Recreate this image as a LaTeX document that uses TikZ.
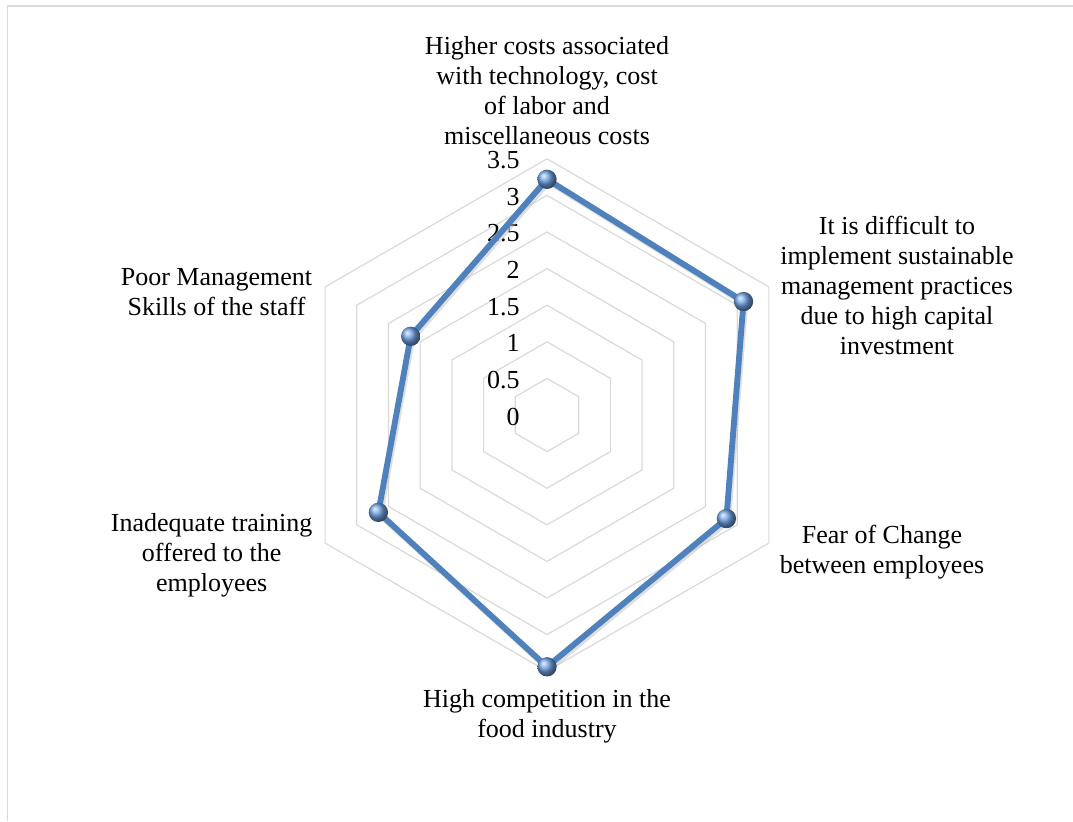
\documentclass[tikz,border=0pt]{standalone}
\usepackage{fontspec}
\setmainfont{Liberation Serif}

\definecolor{serblue}{RGB}{79,129,189}
\definecolor{ballblue}{RGB}{112,162,228}
\definecolor{gridgray}{RGB}{217,217,217}

\begin{document}
\begin{tikzpicture}[x=0.75pt,y=0.75pt,
  grid line/.style={draw=gridgray,line width=0.9pt},
  tick label/.style={anchor=base east,inner sep=0pt,font=\fontsize{19.5}{22}\selectfont},
  cat label/.style={align=center,inner sep=0pt,font=\fontsize{19.5}{22.6}\selectfont},
  data line/.style={draw=serblue,line width=4.4pt,line join=round},
  data point/.style={circle,inner sep=0pt,minimum size=14.5pt,shading=ball,ball color=ballblue}]

  \def\rs{73.2}
  \useasboundingbox (-547,-406) rectangle (526,415);

  % outer frame
  \draw[gridgray,line width=1.3pt] (526,409) -| (-539.5,-406);

  % hexagon grid
  \foreach \k in {0.5,1,1.5,2,2.5,3,3.5}
    \draw[grid line] (90:\k*\rs) -- (30:\k*\rs) -- (-30:\k*\rs) -- (-90:\k*\rs)
      -- (210:\k*\rs) -- (150:\k*\rs) -- cycle;

  % axis values
  \foreach \v [count=\i] in {0,0.5,1,1.5,2,2.5,3,3.5}
    \node[tick label] (t\i) at (-27,\v*\rs-10) {\v};

  % data
  \foreach \a/\v [count=\i] in {90/3.22,30/3.10,-30/2.83,-90/3.44,210/2.66,150/2.15}
    \coordinate (d\i) at (\a:\v*\rs);

  \draw[gray!50,line width=4.4pt,opacity=0.5,line join=round,transform canvas={shift={(1.2pt,-1.8pt)}}]
    (d1) -- (d2) -- (d3) -- (d4) -- (d5) -- (d6) -- cycle;
  \draw[data line] (d1) -- (d2) -- (d3) -- (d4) -- (d5) -- (d6) -- cycle;

  \foreach \i in {1,...,6}
    \node[data point] (m\i) at (d\i) {};

  % category labels
  \node[cat label] (c1) at (0,324.6) {Higher costs associated\\with technology, cost\\of labor and\\miscellaneous costs};
  \node[cat label] (c2) at (350,129.5) {It is difficult to\\implement sustainable\\management practices\\due to high capital\\investment};
  \node[cat label] (c3) at (335,-137.3) {Fear of Change\\between employees};
  \node[cat label] (c4) at (0,-300.9) {High competition in the\\food industry};
  \node[cat label] (c5) at (-335.3,-140.5) {Inadequate training\\offered to the\\employees};
  \node[cat label] (c6) at (-330.5,123.3) {Poor Management\\Skills of the staff};
\end{tikzpicture}
\end{document}
